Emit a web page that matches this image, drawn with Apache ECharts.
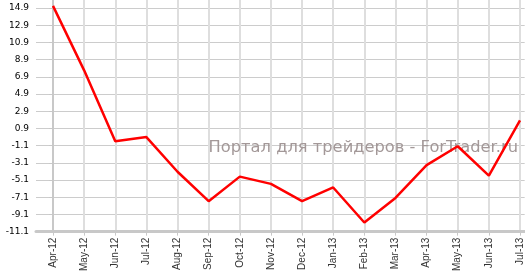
<!DOCTYPE html>
<html><head><meta charset="utf-8">
<script src="https://cdn.jsdelivr.net/npm/echarts@6/dist/echarts.min.js"></script>
<style>html,body{margin:0;padding:0;background:#fff}#c{width:525px;height:274px}</style>
</head><body><div id="c"></div>
<script>
const categories = ['Apr-12','May-12','Jun-12','Jul-12','Aug-12','Sep-12','Oct-12','Nov-12','Dec-12','Jan-13','Feb-13','Mar-13','Apr-13','May-13','Jun-13','Jul-13'];
const values = [15.16, 7.66, -0.59, -0.1, -4.13, -7.56, -4.7, -5.54, -7.56, -5.96, -10.04, -7.18, -3.37, -1.17, -4.59, 1.84];
const yTicks = [-11.1, -9.1, -7.1, -5.1, -3.1, -1.1, 0.9, 2.9, 4.9, 6.9, 8.9, 10.9, 12.9, 14.9];
const watermark = 'Портал для трейдеров - ForTrader.ru';

const idx = categories.map((c, i) => i);
const chart = echarts.init(document.getElementById('c'), null, {renderer: 'canvas'});
chart.setOption({
  animation: false,
  grid: {left: 36, right: 0, top: 0, bottom: 37, containLabel: false},
  xAxis: {
    type: 'value', min: -0.546, max: 15.15,
    axisLine: {show: true, onZero: false, lineStyle: {color: '#c8c8c8', width: 3}},
    axisTick: {show: true, customValues: idx, length: 4, lineStyle: {color: '#c8c8c8', width: 1}},
    axisLabel: {customValues: idx, rotate: 90, margin: 6, fontFamily: 'Liberation Sans', fontSize: 10, color: '#333',
      formatter: v => categories[Math.round(v)] || ''},
    splitLine: {show: true, lineStyle: {color: '#dedede', width: 2}}
  },
  yAxis: {
    type: 'value', min: -11.1, max: 15.84,
    axisLine: {show: true, lineStyle: {color: '#c8c8c8', width: 2}},
    axisTick: {show: true, customValues: yTicks, length: 4, lineStyle: {color: '#c8c8c8', width: 1}},
    axisLabel: {customValues: yTicks, margin: 7, fontFamily: 'DejaVu Sans', fontSize: 9, color: '#000',
      formatter: v => v.toFixed(1)},
    splitLine: {show: true, lineStyle: {color: '#cccccc', width: 1}}
  },
  graphic: [{
    type: 'text', right: 7, top: 140, z: 1,
    style: {text: watermark, fill: '#a39898', font: '16.3px "DejaVu Sans"'}
  }],
  series: [{
    type: 'line', z: 5, data: idx.map(i => [i, values[i]]), showSymbol: false, clip: false,
    lineStyle: {color: '#ff0000', width: 2.5}
  }]
});
</script></body></html>
